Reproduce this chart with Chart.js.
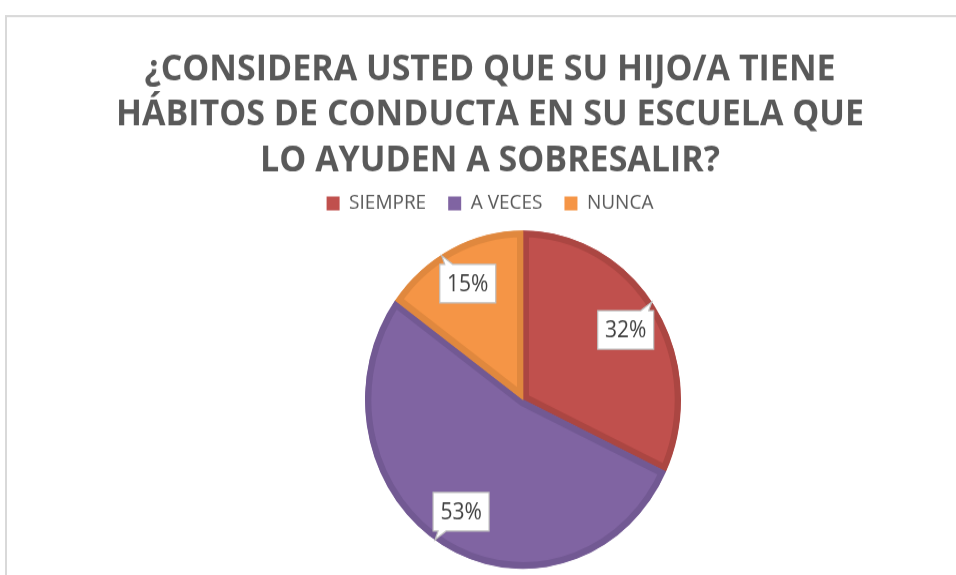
<!DOCTYPE html>
<html>
<head>
<meta charset="utf-8">
<script src="https://cdn.jsdelivr.net/npm/chart.js@4.4.1/dist/chart.umd.min.js"></script>
<style>
  html, body { margin: 0; padding: 0; background: #ffffff; overflow: hidden; }
</style>
</head>
<body>
<canvas id="c" width="956" height="537" style="display:block;width:956px;height:575px"></canvas>
<script>
const titleLines = [
  "¿CONSIDERA USTED QUE SU HIJO/A TIENE",
  "HÁBITOS DE CONDUCTA EN SU ESCUELA QUE",
  "LO AYUDEN A SOBRESALIR?"
];
const categories = ["SIEMPRE", "A VECES", "NUNCA"];
const values = [32, 53, 15];
const fillColors = ["#C0504D", "#8064A2", "#F59546"];
const edgeColors = ["#AB4642", "#725993", "#E0883E"];

const frame = {
  id: 'frame',
  beforeDraw(chart) {
    const ctx = chart.ctx;
    ctx.save();
    ctx.fillStyle = '#ffffff';
    ctx.fillRect(0, 0, chart.width, chart.height);
    ctx.strokeStyle = '#D9D9D9';
    ctx.lineWidth = 2;
    ctx.strokeRect(6, 15, chart.width + 20, chart.height + 20);
    ctx.restore();
  }
};

const shiftPie = {
  id: 'shiftPie',
  afterLayout(chart) {
    chart.chartArea.left += 66;
  }
};

const calloutLabels = {
  id: 'calloutLabels',
  afterDatasetsDraw(chart) {
    const ctx = chart.ctx;
    const meta = chart.getDatasetMeta(0);
    const data = chart.data.datasets[0].data;
    const total = data.reduce((a, b) => a + b, 0);
    ctx.save();
    meta.data.forEach((arc, i) => {
      const p = arc.getProps(['x', 'y', 'startAngle', 'endAngle', 'outerRadius'], true);
      const mid = (p.startAngle + p.endAngle) / 2;
      const r = p.outerRadius * 0.77;
      const cx = p.x + Math.cos(mid) * r;
      const cy = p.y + Math.sin(mid) * r;
      const w = 56, h = 36;
      const L = cx - w / 2, R = cx + w / 2, T = cy - h / 2, B = cy + h / 2;
      const dirx = Math.cos(mid) >= 0 ? 1 : -1;
      const diry = Math.sin(mid) >= 0 ? 1 : -1;
      const xa = cx + dirx * (w / 2 - 13);
      const xb = cx + dirx * (w / 2 - 5);
      const lo = Math.min(xa, xb), hi = Math.max(xa, xb);
      const tipX = cx + dirx * (w / 2 - 2);
      ctx.beginPath();
      ctx.moveTo(L, T);
      if (diry < 0) {
        ctx.lineTo(lo, T);
        ctx.lineTo(tipX, T - 8);
        ctx.lineTo(hi, T);
      }
      ctx.lineTo(R, T);
      ctx.lineTo(R, B);
      if (diry > 0) {
        ctx.lineTo(hi, B);
        ctx.lineTo(tipX, B + 8);
        ctx.lineTo(lo, B);
      }
      ctx.lineTo(L, B);
      ctx.closePath();
      ctx.fillStyle = '#ffffff';
      ctx.fill();
      ctx.strokeStyle = '#BFBFBF';
      ctx.lineWidth = 1.2;
      ctx.stroke();
      ctx.fillStyle = '#404040';
      ctx.font = '21px "Open Sans"';
      ctx.textAlign = 'center';
      ctx.textBaseline = 'middle';
      ctx.fillText(Math.round(data[i] / total * 100) + '%', cx, cy + 1);
    });
    ctx.restore();
  }
};

new Chart(document.getElementById('c'), {
  type: 'pie',
  data: {
    labels: categories,
    datasets: [{
      data: values,
      backgroundColor: fillColors,
      borderColor: edgeColors,
      borderWidth: 6,
      borderAlign: 'inner',
      radius: 158
    }]
  },
  options: {
    responsive: false,
    animation: false,
    devicePixelRatio: 1,
    layout: { padding: { left: 24, right: 0, top: 0, bottom: -6 } },
    plugins: {
      tooltip: { enabled: false },
      title: {
        display: true,
        text: titleLines,
        color: '#595959',
        font: { family: '"Open Sans"', size: 34, weight: 'bold', lineHeight: 1.25 },
        padding: { top: 44, bottom: -13 }
      },
      legend: {
        display: true,
        position: 'top',
        labels: {
          color: '#595959',
          font: { family: '"Open Sans"', size: 19 },
          boxWidth: 13,
          boxHeight: 13,
          padding: 22,
          generateLabels(chart) {
            const items = Chart.overrides.pie.plugins.legend.labels.generateLabels(chart);
            items.forEach(it => { it.lineWidth = 0; it.strokeStyle = it.fillStyle; });
            return items;
          }
        }
      }
    }
  },
  plugins: [frame, shiftPie, calloutLabels]
});
</script>
</body>
</html>
